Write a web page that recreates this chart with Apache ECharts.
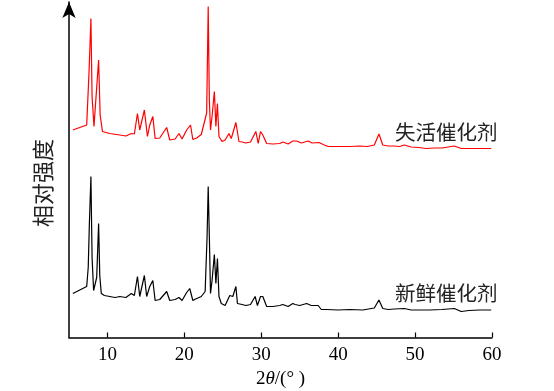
<!DOCTYPE html>
<html>
<head>
<meta charset="utf-8">
<script src="https://cdn.jsdelivr.net/npm/echarts@6/dist/echarts.min.js"></script>
<style>
html, body { margin: 0; padding: 0; background: #fff; }
#main { width: 554px; height: 391px; }
</style>
</head>
<body>
<div id="main"></div>
<script>
// 2θ 刻度
var xTicks = [10, 20, 30, 40, 50, 60];

// 新鲜催化剂 (黑线)
var freshAngle = [5.5, 7.3, 7.5, 7.65, 7.85, 8.0, 8.2, 8.6, 8.85, 9.0, 9.2, 9.6, 10.3, 11.0, 11.6, 12.4, 13.1, 13.5, 13.9, 14.2,
    14.8, 15.1, 15.5, 15.9, 16.2, 16.8, 17.7, 18.1, 18.8, 19.3, 19.7, 20.3, 20.7, 21.1, 21.6, 22.2, 22.7, 22.95, 23.1, 23.25,
    23.4, 23.6, 23.9, 24.1, 24.3, 24.5, 24.8, 25.3, 25.9, 26.3, 26.7, 26.9, 27.5, 28.0, 28.6, 29.2, 29.5, 29.9, 30.2, 30.7,
    31.5, 32.4, 32.8, 33.5, 34.1, 34.4, 35.0, 35.9, 36.5, 37.4, 37.8, 38.5, 40.0, 41.5, 43.2, 44.7, 45.3, 45.8, 46.5, 47.3,
    48.6, 49.5, 51.9, 53.5, 55.1, 56.0, 57.0, 58.4, 59.9];
var freshInt = [44, 51, 70, 114, 161, 80, 47, 60, 114, 62, 44, 42, 41, 40, 41, 40, 44, 42, 61, 41,
    62, 41, 51, 57, 37, 38, 46, 37, 38, 40, 37, 45, 49, 37, 39, 41, 46, 100, 151, 100,
    44, 57, 83, 54, 79, 41, 34, 32, 42, 41, 51, 34, 33, 32, 33, 41, 32, 41, 41, 31,
    31, 32, 33, 31, 34, 33, 32, 34, 32, 32, 28, 28, 27.5, 28, 27.5, 29.5, 37.5, 29, 28, 28.5,
    29, 27.5, 27.5, 28, 29, 26, 27, 27.5, 27.5];

// 失活催化剂 (红线)
var spentAngle = [5.5, 7.3, 7.6, 7.85, 8.0, 8.25, 8.6, 8.85, 9.05, 9.35, 10.3, 11.6, 12.4, 13.1, 13.5, 13.9, 14.2, 14.8, 15.2, 15.5,
    15.9, 16.2, 16.8, 17.7, 18.1, 18.8, 19.3, 19.7, 20.3, 20.8, 21.1, 21.6, 22.2, 22.9, 23.1, 23.25, 23.4, 23.6, 23.9, 24.1,
    24.3, 24.5, 24.9, 25.3, 25.8, 26.1, 26.7, 27.1, 27.5, 28.0, 28.6, 29.3, 29.6, 29.9, 30.2, 30.7, 31.5, 32.4, 32.8, 33.5,
    34.1, 34.6, 35.2, 36.1, 36.6, 37.5, 38.2, 38.7, 40.0, 41.5, 42.8, 43.8, 44.7, 45.3, 45.8, 46.5, 47.3, 48.0, 48.6, 49.5,
    50.5, 51.4, 52.5, 53.5, 55.1, 56.0, 57.5, 59.9];
var spentInt = [207.5, 212.5, 264.5, 319, 241, 211, 250, 277.5, 222.5, 206, 204, 202.5, 201.5, 204, 203.5, 224, 207.5, 227.5, 201, 212.5,
    221, 199, 199.5, 210, 197.5, 198.5, 204, 198.5, 207.5, 212.5, 198, 199.5, 203, 224.5, 331, 237, 207.5, 221, 246, 211,
    234, 201, 196, 197.5, 204, 199, 215, 196, 195.5, 194.5, 195.5, 206, 194, 206, 202.5, 194, 193.5, 194, 195.5, 193.5,
    196.5, 196.5, 194.5, 196.5, 194.5, 195, 192.5, 191, 191, 191, 191.5, 191, 192.5, 203.5, 192.5, 191.5, 191.5, 191, 192.5, 190.5,
    190, 189, 189.5, 189.5, 191.5, 189, 189, 189];

function pairs(xs, ys) {
    var out = [];
    for (var i = 0; i < xs.length; i++) {
        out.push([xs[i], ys[i]]);
    }
    return out;
}

var chart = echarts.init(document.getElementById('main'));

var option = {
    animation: false,
    backgroundColor: '#fff',
    grid: {
        left: 69,
        right: 62,
        top: 2,
        bottom: 53.5,
        containLabel: false,
        outerBoundsMode: 'none'
    },
    xAxis: {
        type: 'value',
        min: 5,
        max: 60,
        name: '2{i|θ}/(° )',
        nameLocation: 'middle',
        nameGap: 32,
        nameTextStyle: {
            fontFamily: 'Liberation Serif',
            fontSize: 19,
            color: '#000',
            rich: {
                i: { fontFamily: 'Liberation Serif', fontStyle: 'italic', fontSize: 19, color: '#000' }
            }
        },
        axisLine: { lineStyle: { color: '#000', width: 1.5 } },
        axisTick: {
            inside: true,
            length: 5,
            lineStyle: { color: '#000', width: 1.2 },
            customValues: xTicks
        },
        axisLabel: {
            margin: 8,
            fontFamily: 'Liberation Serif',
            fontSize: 19,
            color: '#000',
            customValues: xTicks
        },
        splitLine: { show: false }
    },
    yAxis: {
        type: 'value',
        min: 0,
        max: 335.5,
        axisLine: {
            show: true,
            symbol: ['none', 'arrow'],
            symbolSize: [10, 16],
            lineStyle: { color: '#000', width: 1.5 }
        },
        axisTick: { show: false },
        axisLabel: { show: false },
        splitLine: { show: false }
    },
    graphic: [
        {
            type: 'text',
            x: 43,
            y: 183,
            rotation: Math.PI / 2,
            style: {
                text: '相对强度',
                font: '22px "Noto Sans CJK SC"',
                fill: '#222',
                align: 'center',
                verticalAlign: 'middle'
            }
        },
        {
            type: 'text',
            x: 395,
            y: 132,
            style: {
                text: '失活催化剂',
                font: '20.5px "Noto Sans CJK SC"',
                fill: '#222',
                align: 'left',
                verticalAlign: 'middle'
            }
        },
        {
            type: 'text',
            x: 395,
            y: 293,
            style: {
                text: '新鲜催化剂',
                font: '20.5px "Noto Sans CJK SC"',
                fill: '#222',
                align: 'left',
                verticalAlign: 'middle'
            }
        }
    ],
    series: [
        {
            name: '失活催化剂',
            type: 'line',
            data: pairs(spentAngle, spentInt),
            showSymbol: false,
            clip: false,
            lineStyle: { color: '#ff0000', width: 1.2 }
        },
        {
            name: '新鲜催化剂',
            type: 'line',
            data: pairs(freshAngle, freshInt),
            showSymbol: false,
            clip: false,
            lineStyle: { color: '#000', width: 1.2 }
        }
    ]
};

chart.setOption(option);
</script>
</body>
</html>
